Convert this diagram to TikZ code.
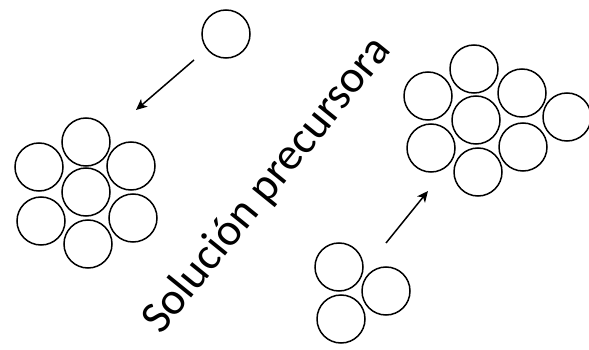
\documentclass[tikz,border=0pt]{standalone}
\usepackage{fontspec}
\setmainfont{Carlito}
\usetikzlibrary{arrows.meta}

\begin{document}
\begin{tikzpicture}[
    x=1pt, y=-1pt,
    every node/.style={inner sep=0pt},
    particle/.style={draw=black, line width=1.5pt, circle, minimum size=48pt},
    flow/.style={-{Stealth[length=11pt, width=10pt, inset=3pt]}, line width=1.5pt},
    label-style/.style={font=\fontsize{45.6}{50}\selectfont, anchor=base, rotate=51}
]
    \useasboundingbox (0,0) rectangle (589,350);

    % Free particle arriving at the seed
    \node[particle] (free) at (226,34) {};
    \coordinate (free-tail) at (194,60);
    \coordinate (free-tip) at (136,110);
    \draw[flow] (free-tail) -- (free-tip);

    % Hexagonal seed of seven particles
    \node[particle] (seed-c)  at (86,192) {};
    \node[particle] (seed-t)  at (86,142) {};
    \node[particle] (seed-ul) at (39,167) {};
    \node[particle] (seed-ur) at (131,166) {};
    \node[particle] (seed-ll) at (41,221) {};
    \node[particle] (seed-lr) at (133,218) {};
    \node[particle] (seed-b)  at (88,244) {};

    % Small cluster of three
    \node[particle] (trio-t) at (339,267) {};
    \node[particle] (trio-r) at (386,291) {};
    \node[particle] (trio-b) at (341,319) {};
    \coordinate (trio-tail) at (386,243);
    \coordinate (trio-tip) at (428,191);
    \draw[flow] (trio-tail) -- (trio-tip);

    % Grown cluster
    \node[particle] (grown-c)  at (476,120) {};
    \node[particle] (grown-t)  at (474,69) {};
    \node[particle] (grown-ul) at (428,96) {};
    \node[particle] (grown-ur) at (522,93) {};
    \node[particle] (grown-r)  at (567,117) {};
    \node[particle] (grown-ll) at (431,148) {};
    \node[particle] (grown-lr) at (523,147) {};
    \node[particle] (grown-b)  at (478,172) {};

    % Diagonal caption
    \node[label-style] (caption) at (277,193) {Solución precursora};
\end{tikzpicture}
\end{document}
